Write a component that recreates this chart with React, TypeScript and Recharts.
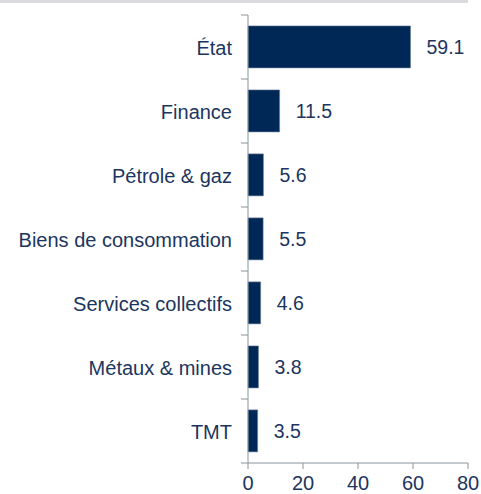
import React from 'react';
import { BarChart, Bar, XAxis, YAxis, LabelList } from 'recharts';

const categories = ['État', 'Finance', 'Pétrole & gaz', 'Biens de consommation', 'Services collectifs', 'Métaux & mines', 'TMT'];
const values = [59.1, 11.5, 5.6, 5.5, 4.6, 3.8, 3.5];
const xTicks = [0, 20, 40, 60, 80];

const data = categories.map((c, i) => ({ name: c, value: values[i] }));

const W = 481;
const H = 494;
const X_AXIS_H = 31;
const M = { top: 15, right: 13, bottom: 0, left: 0 };
const BAND = (H - M.top - M.bottom - X_AXIS_H) / categories.length;
const TEXT = '#1c355e';
const AXIS = '#8a949e';
const FONT = '"Liberation Sans", Arial, sans-serif';

const YTick = (props: any) => {
  const { x, y, payload, index } = props;
  const isLast = index === categories.length - 1;
  return (
    <g>
      <line x1={x - 7} x2={x} y1={y - BAND / 2} y2={y - BAND / 2} stroke={AXIS} strokeWidth={1} />
      {isLast && <line x1={x - 7} x2={x} y1={y + BAND / 2} y2={y + BAND / 2} stroke={AXIS} strokeWidth={1} />}
      <text x={x - 16} y={y} dy="0.4em" textAnchor="end" fill={TEXT} fontSize={20} fontFamily={FONT}>
        {payload.value}
      </text>
    </g>
  );
};

export default function App() {
  return (
    <div style={{ position: 'absolute', left: 0, top: 0, width: W, height: H, background: '#fff' }}>
      <div style={{ position: 'absolute', left: 0, top: 0, width: 468, height: 3, background: '#d9dbe0' }} />
      <BarChart width={W} height={H} data={data} layout="vertical" margin={M} barCategoryGap="17%">
        <XAxis
          type="number"
          domain={[0, 80]}
          ticks={xTicks}
          axisLine={{ stroke: AXIS }}
          tickLine={{ stroke: AXIS }}
          tickSize={6}
          tickMargin={7}
          height={X_AXIS_H}
          tick={{ fill: TEXT, fontSize: 20, fontFamily: FONT }}
          interval={0}
        />
        <YAxis
          type="category"
          dataKey="name"
          width={248}
          axisLine={{ stroke: AXIS }}
          tickLine={false}
          tickSize={0}
          tickMargin={0}
          tick={<YTick />}
          interval={0}
        />
        <Bar dataKey="value" fill="#002856" stroke="#6f8099" strokeWidth={0.6} isAnimationActive={false}>
          <LabelList dataKey="value" position="right" offset={16} fill={TEXT} fontSize={19.5} fontFamily={FONT} formatter={(v: any) => Number(v).toFixed(1)} />
        </Bar>
      </BarChart>
    </div>
  );
}
